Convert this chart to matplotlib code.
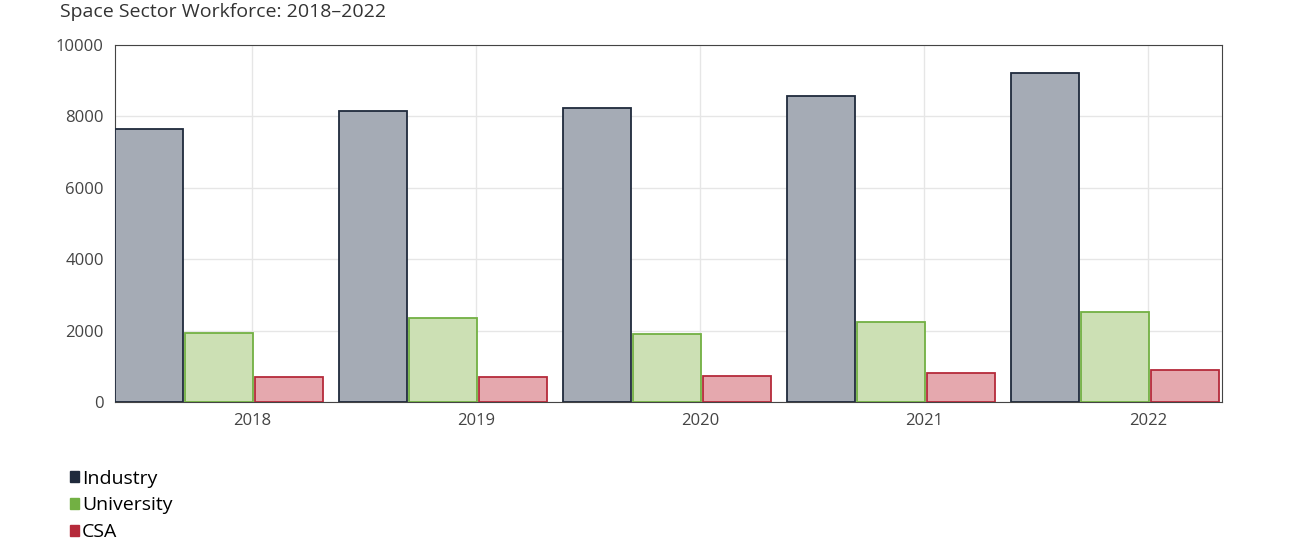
import matplotlib.pyplot as plt
import numpy as np

years = ["2018", "2019", "2020", "2021", "2022"]
industry = [7650, 8150, 8240, 8570, 9210]
university = [1930, 2350, 1900, 2240, 2520]
csa = [700, 700, 730, 810, 900]

plt.rcParams["font.family"] = ["Open Sans", "DejaVu Sans"]

fig = plt.figure(figsize=(12.96, 5.49), dpi=100)
ax = fig.add_axes([115 / 1296, 1 - 402 / 549, (1222 - 115) / 1296, (402 - 45) / 549])

x = np.arange(len(years))
w = 0.30
offsets = [-0.46, -0.148, 0.165]
series = [
    ("Industry", industry, "#a5abb5", "#1f2a3c"),
    ("University", university, "#cce0b4", "#72b043"),
    ("CSA", csa, "#e5a8ae", "#b52a3a"),
]
for (name, vals, fc, ec), off in zip(series, offsets):
    ax.bar(x + off, vals, width=w, color=fc, edgecolor=ec,
           linewidth=1.3, label=name, zorder=3)

ax.set_xlim(-0.612, 4.33)
ax.set_ylim(0, 10000)
ax.set_yticks(range(0, 10001, 2000))
ax.set_xticks(x)
ax.set_xticklabels(years)
ax.grid(True, color="#e6e6e6", linewidth=1, zorder=0)
ax.tick_params(colors="#444444", labelsize=12, length=0, pad=8)
for s in ax.spines.values():
    s.set_color("#444444")

fig.text(60 / 1296, 1 - 12 / 549, "Space Sector Workforce: 2018\u20132022",
         fontsize=14, color="#333333", va="center")

handles = [plt.Rectangle((0, 0), 1, 1, color=ec) for _, _, _, ec in series]
fig.legend(handles, [s[0] for s in series], loc="upper left",
           bbox_to_anchor=(52 / 1296, 1 - 452 / 549), frameon=False,
           fontsize=14, handlelength=0.5, handleheight=0.5,
           handletextpad=0.15, labelspacing=0.45)

fig.savefig("out.png", dpi=100)
